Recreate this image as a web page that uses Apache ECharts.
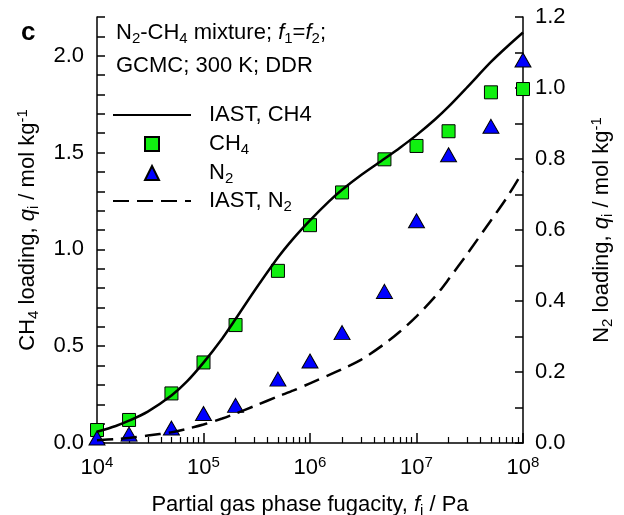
<!DOCTYPE html>
<html><head><meta charset="utf-8">
<script src="https://cdn.jsdelivr.net/npm/echarts@6/dist/echarts.min.js"></script>
<style>html,body{margin:0;padding:0;background:#fff}#c{width:624px;height:515px}</style>
</head><body><div id="c"></div>
<script>
// GCMC data points
const fugacity = [1e4, 2e4, 5e4, 1e5, 2e5, 5e5, 1e6, 2e6, 5e6, 1e7, 2e7, 5e7, 1e8];
const ch4Loading = [0.067, 0.119, 0.256, 0.416, 0.609, 0.889, 1.125, 1.294, 1.465, 1.534, 1.61, 1.811, 1.828];
const n2Loading = [0.014, 0.025, 0.042, 0.083, 0.106, 0.180, 0.231, 0.311, 0.427, 0.626, 0.812, 0.892, 1.079];
// IAST curves
const iastFugacity = [1e4, 1.5e4, 2e4, 3e4, 5e4, 7e4, 1e5, 1.5e5, 2e5, 3e5, 5e5, 7e5, 1e6, 1.5e6, 2e6, 3e6, 5e6, 7e6, 1e7, 1.5e7, 2e7, 3e7, 5e7, 7e7, 1e8];
const iastCH4 = [0.058, 0.088, 0.115, 0.162, 0.245, 0.318, 0.415, 0.54, 0.64, 0.785, 0.958, 1.057, 1.15, 1.247, 1.308, 1.383, 1.468, 1.525, 1.59, 1.672, 1.737, 1.838, 1.968, 2.044, 2.12];
const iastN2 = [0.008, 0.011, 0.014, 0.021, 0.030, 0.040, 0.052, 0.069, 0.083, 0.104, 0.131, 0.148, 0.168, 0.191, 0.208, 0.234, 0.279, 0.314, 0.357, 0.413, 0.461, 0.533, 0.627, 0.69, 0.765];
// axis ticks
const xMajorTicks = [1e4, 1e5, 1e6, 1e7, 1e8];
const xMinorMultipliers = [2, 3, 4, 5, 6, 7, 8, 9];
const legendLabels = {'IAST, CH4': 'IAST, CH4', 'CH4': 'CH{sub|4}', 'N2': 'N{sub|2}', 'IAST, N2': 'IAST, N{sub|2}'};

const xMinorTicks = [];
for (let i = 0; i < xMajorTicks.length - 1; i++) xMinorMultipliers.forEach(m => xMinorTicks.push(xMajorTicks[i] * m));

const F = '"Liberation Sans", Arial, Helvetica, sans-serif';
const FS = 22;
const rich = {
  b: {fontSize: FS, fontFamily: F, color: '#000', lineHeight: 26},
  it: {fontSize: FS, fontFamily: F, color: '#000', fontStyle: 'italic', lineHeight: 26},
  sub: {fontSize: 15, fontFamily: F, color: '#000', lineHeight: 14, verticalAlign: 'bottom'},
  sup: {fontSize: 15, fontFamily: F, color: '#000', lineHeight: 14, verticalAlign: 'top'}
};
const baseText = {fontSize: FS, fontFamily: F, color: '#000', lineHeight: 26, rich: rich};

const chart = echarts.init(document.getElementById('c'), null, {renderer: 'canvas'});
const axisLine = {show: true, lineStyle: {color: '#000', width: 1.5}};
const legendCommon = {orient: 'vertical', padding: 0, itemHeight: 14, itemGap: 3, symbolKeepAspect: true,
  selectedMode: false, formatter: name => legendLabels[name]};

chart.setOption({
  animation: false,
  backgroundColor: '#fff',
  grid: {left: 97, right: 101, top: 17, bottom: 72, containLabel: false, outerBoundsMode: 'none'},
  xAxis: [{
    type: 'log', logBase: 10, min: 1e4, max: 1e8, position: 'bottom',
    axisLine: axisLine,
    axisTick: {show: true, inside: true, length: 10, lineStyle: {color: '#000', width: 1.5}, customValues: xMajorTicks},
    axisLabel: {customValues: xMajorTicks, margin: 12, ...baseText,
      formatter: v => '{b|10}{sup|' + Math.round(Math.log10(v)) + '}'},
    splitLine: {show: false},
    name: '{b|Partial gas phase fugacity, }{it|f}{sub|i}{b| / Pa}',
    nameLocation: 'middle', nameGap: 49, nameTextStyle: baseText
  }, {
    type: 'log', logBase: 10, min: 1e4, max: 1e8, position: 'bottom',
    axisLine: {show: false},
    axisTick: {show: true, inside: true, length: 6, lineStyle: {color: '#000', width: 1.2}, customValues: xMinorTicks},
    axisLabel: {show: false},
    splitLine: {show: false}
  }],
  yAxis: [{
    type: 'value', min: 0, max: 2.2, interval: 0.1, position: 'left',
    axisLine: axisLine,
    axisTick: {show: true, inside: true, length: 8, lineStyle: {color: '#000', width: 1.5}},
    axisLabel: {margin: 13, ...baseText,
      formatter: v => (Math.round(v * 10) % 5 === 0 ? v.toFixed(1) : '')},
    splitLine: {show: false},
    name: '{b|CH}{sub|4}{b| loading, }{it|q}{sub|i}{b| / mol kg}{sup|-1}',
    nameLocation: 'middle', nameRotate: 90, nameGap: 56, nameTextStyle: baseText
  }, {
    type: 'value', min: 0, max: 1.2, interval: 0.1, position: 'right',
    axisLine: axisLine,
    axisTick: {show: true, inside: true, length: 8, lineStyle: {color: '#000', width: 1.5}},
    axisLabel: {margin: 12, ...baseText,
      formatter: v => (Math.round(v * 10) % 2 === 0 ? v.toFixed(1) : '')},
    splitLine: {show: false},
    name: '{b|N}{sub|2}{b| loading, }{it|q}{sub|i}{b| / mol kg}{sup|-1}',
    nameLocation: 'middle', nameRotate: 90, nameGap: 66, nameTextStyle: baseText
  }],
  legend: [
    {...legendCommon, left: 112, top: 102, itemWidth: 78,
      data: [{name: 'IAST, CH4', itemStyle: {opacity: 0}}],
      textStyle: {...baseText, padding: [0, 0, 0, 13]}},
    {...legendCommon, left: 144, top: 131, itemWidth: 14,
      data: ['CH4', 'N2'],
      textStyle: {...baseText, padding: [0, 0, 0, 45]}},
    {...legendCommon, left: 112, top: 188, itemWidth: 78,
      data: [{name: 'IAST, N2', itemStyle: {opacity: 0}}],
      textStyle: {...baseText, padding: [0, 0, 0, 13]}}
  ],
  graphic: [
    {type: 'text', x: 21, y: 33, style: {text: 'c', fontSize: 26, fontWeight: 'bold', fontFamily: F, fill: '#000', verticalAlign: 'middle', align: 'left'}},
    {type: 'text', x: 116, y: 20, style: {text: '{b|N}{sub|2}{b|-CH}{sub|4}{b| mixture; }{it|f}{sub|1}{b|=}{it|f}{sub|2}{b|;}', rich: rich, fontSize: FS, fontFamily: F, lineHeight: 26, fill: '#000', verticalAlign: 'top', align: 'left'}},
    {type: 'text', x: 116, y: 53, style: {text: '{b|GCMC; 300 K; DDR}', rich: rich, fontSize: FS, fontFamily: F, lineHeight: 26, fill: '#000', verticalAlign: 'top', align: 'left'}}
  ],
  series: [{
    name: 'IAST, CH4', type: 'line', xAxisIndex: 0, yAxisIndex: 0,
    data: iastFugacity.map((f, i) => [f, iastCH4[i]]),
    symbol: 'none', smooth: 0.3,
    lineStyle: {color: '#000', width: 2.5}, itemStyle: {color: '#000'}
  }, {
    name: 'IAST, N2', type: 'line', xAxisIndex: 0, yAxisIndex: 1,
    data: iastFugacity.map((f, i) => [f, iastN2[i]]),
    symbol: 'none', smooth: 0.3,
    lineStyle: {color: '#000', width: 2.5, type: [16, 8]}, itemStyle: {color: '#000'}
  }, {
    name: 'CH4', type: 'scatter', xAxisIndex: 0, yAxisIndex: 0,
    data: fugacity.map((f, i) => [f, ch4Loading[i]]),
    symbol: 'rect', symbolSize: 13,
    itemStyle: {color: '#10f010', borderColor: '#000', borderWidth: 1, opacity: 1}
  }, {
    name: 'N2', type: 'scatter', xAxisIndex: 0, yAxisIndex: 1,
    data: fugacity.map((f, i) => [f, n2Loading[i]]),
    symbol: 'triangle', symbolSize: [16, 14],
    itemStyle: {color: '#0000ff', borderColor: '#000', borderWidth: 1, opacity: 1}
  }]
});
</script></body></html>
